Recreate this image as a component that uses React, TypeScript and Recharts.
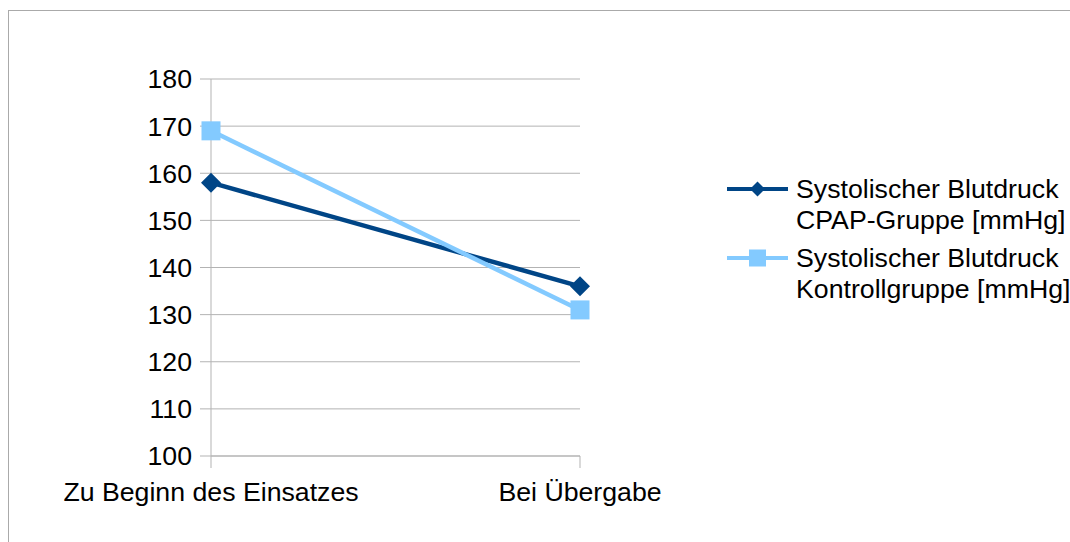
import React from 'react';
import { LineChart, Line, XAxis, YAxis, CartesianGrid, Legend } from 'recharts';

const categories = ['Zu Beginn des Einsatzes', 'Bei Übergabe'];
const cpapValues = [158, 136];
const controlValues = [169, 131];
const yTicks = [100, 110, 120, 130, 140, 150, 160, 170, 180];
const seriesNames = [
  'Systolischer Blutdruck\nCPAP-Gruppe [mmHg]',
  'Systolischer Blutdruck\nKontrollgruppe [mmHg]',
];
const seriesColors = ['#004586', '#83caff'];
const seriesMarkers = ['diamond', 'square'];

const data = categories.map((c, i) => ({
  category: c,
  cpap: cpapValues[i],
  control: controlValues[i],
}));

const FONT = '"Liberation Sans", Arial, sans-serif';
const FS = 26.7;
const GRID = '#b3b3b3';

const Marker = ({ kind, cx, cy, color, size }: { kind: string; cx: number; cy: number; color: string; size: number }) => {
  if (kind === 'diamond') {
    const h = size / 2;
    return <path d={`M${cx},${cy - h}L${cx + h},${cy}L${cx},${cy + h}L${cx - h},${cy}Z`} fill={color} />;
  }
  const h = size / 2;
  return <rect x={cx - h} y={cy - h} width={size} height={size} fill={color} />;
};

const makeDot = (kind: string, color: string, size: number) => (props: any) => {
  const { cx, cy, index } = props;
  if (cx == null || cy == null) return <g key={`d-${index}`} />;
  return (
    <g key={`d-${kind}-${index}`}>
      <Marker kind={kind} cx={cx} cy={cy} color={color} size={size} />
    </g>
  );
};

const renderLegend = (props: any) => {
  const payload = props.payload || [];
  return (
    <div style={{ fontFamily: FONT, fontSize: FS, color: '#000' }}>
      {payload.map((entry: any, i: number) => (
        <div key={i} style={{ display: 'flex', alignItems: 'flex-start', marginBottom: 7 }}>
          <svg width={62} height={31} style={{ display: 'block', flex: 'none' }}>
            <line x1={0} y1={15} x2={61} y2={15} stroke={entry.color} strokeWidth={4} />
            <Marker
              kind={seriesMarkers[i]}
              cx={30.5}
              cy={15}
              color={entry.color}
              size={seriesMarkers[i] === 'diamond' ? 15 : 17}
            />
          </svg>
          <div style={{ marginLeft: 7, lineHeight: '31px', whiteSpace: 'pre', flex: 'none' }}>{entry.value}</div>
        </div>
      ))}
    </div>
  );
};

export default function App() {
  return (
    <div
      style={{
        position: 'absolute',
        left: 0,
        top: 0,
        width: 1070,
        height: 542,
        overflow: 'hidden',
        background: '#fff',
      }}
    >
      <div
        style={{
          position: 'absolute',
          left: 8,
          top: 10,
          width: 1100,
          height: 600,
          border: '1px solid #aaaaaa',
          boxSizing: 'border-box',
        }}
      />
      <div style={{ position: 'absolute', left: 0, top: 0 }}>
        <LineChart
          width={1070}
          height={542}
          data={data}
          margin={{ top: 79, right: 490, bottom: 46, left: 151 }}
          style={{ fontFamily: FONT }}
        >
          <CartesianGrid horizontal vertical={false} stroke={GRID} strokeWidth={1} />
          <XAxis
            dataKey="category"
            type="category"
            height={40}
            interval={0}
            axisLine={{ stroke: GRID }}
            tickLine={{ stroke: GRID }}
            tickSize={12}
            tickMargin={14}
            tick={{ fill: '#000', fontSize: FS, fontFamily: FONT }}
          />
          <YAxis
            type="number"
            domain={[100, 180]}
            ticks={yTicks}
            interval={0}
            width={60}
            axisLine={{ stroke: GRID }}
            tickLine={{ stroke: GRID }}
            tickSize={11}
            tickMargin={8}
            tick={{ fill: '#000', fontSize: FS, fontFamily: FONT }}
          />
          <Legend
            layout="vertical"
            align="center"
            verticalAlign="middle"
            content={renderLegend}
            wrapperStyle={{ left: 727, top: 174, width: 420 }}
          />
          <Line
            type="linear"
            dataKey="cpap"
            name={seriesNames[0]}
            stroke={seriesColors[0]}
            strokeWidth={4.5}
            dot={makeDot(seriesMarkers[0], seriesColors[0], 20)}
            activeDot={false}
            isAnimationActive={false}
          />
          <Line
            type="linear"
            dataKey="control"
            name={seriesNames[1]}
            stroke={seriesColors[1]}
            strokeWidth={4.5}
            dot={makeDot(seriesMarkers[1], seriesColors[1], 19)}
            activeDot={false}
            isAnimationActive={false}
          />
        </LineChart>
      </div>
    </div>
  );
}
